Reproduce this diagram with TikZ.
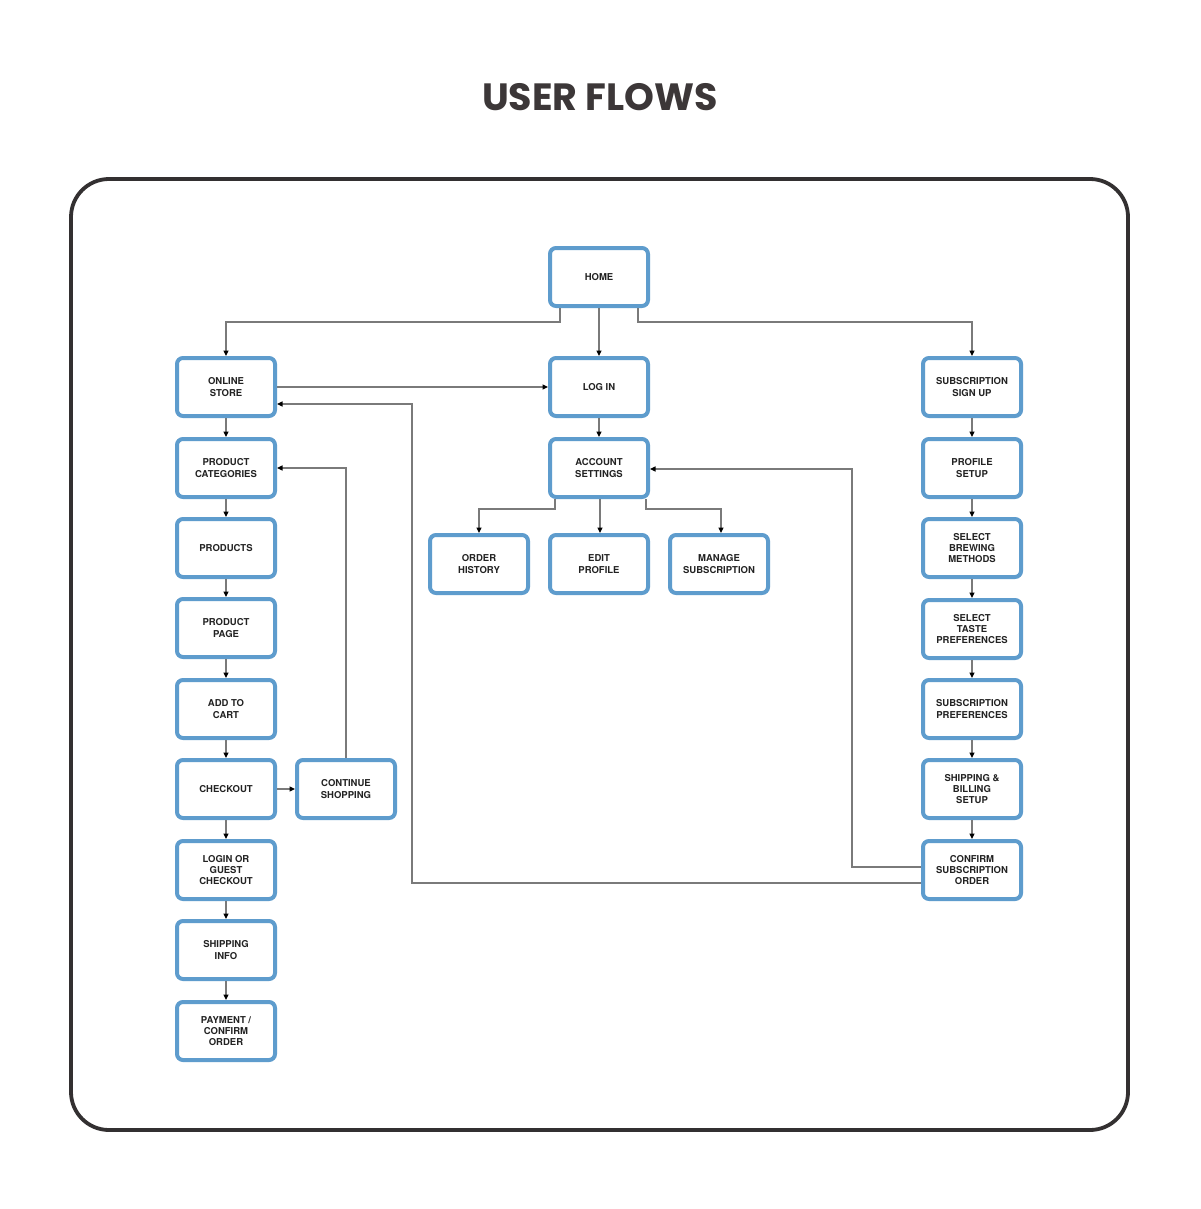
\documentclass[tikz,border=0pt]{standalone}
\usepackage{fontspec}
\setmainfont{TeX Gyre Heros}
\newfontfamily\titlefont{Poppins}
\usetikzlibrary{arrows.meta,calc}
\definecolor{boxblue}{HTML}{5E9CCD}
\definecolor{framegray}{HTML}{333031}
\definecolor{titlegray}{HTML}{3C3738}
\definecolor{linegray}{HTML}{7A7A7A}
\definecolor{txt}{HTML}{222222}
\tikzset{
  flowbox/.style={draw=boxblue, line width=4pt, rounded corners=6pt, fill=white,
    minimum width=98pt, minimum height=58pt, align=center, text=txt,
    font=\fontsize{9.5}{11.2}\selectfont\bfseries, inner sep=0pt},
  conn/.style={draw=linegray, line width=1.1pt,
    -{Triangle[length=5.5pt,width=5pt,color=black]}},
  plain/.style={draw=linegray, line width=1.1pt}
}
\begin{document}
\begin{tikzpicture}[x=1pt,y=-1pt]
\useasboundingbox (0,0) rectangle (1200,1209);
\fill[white] (0,0) rectangle (1200,1209);
\node[text=titlegray, font=\titlefont\bfseries\fontsize{38}{44}\selectfont] (title) at (600,97) {USER FLOWS};
\draw[framegray, line width=3.8pt, rounded corners=38pt] (71,179) rectangle (1128,1130);
% center
\node[flowbox] (home) at (599,277) {HOME};
\node[flowbox] (login) at (599,387) {LOG IN};
\node[flowbox] (acct) at (599,468) {ACCOUNT\\SETTINGS};
\node[flowbox] (hist) at (479,564) {ORDER\\HISTORY};
\node[flowbox] (edit) at (599,564) {EDIT\\PROFILE};
\node[flowbox] (manage) at (719,564) {MANAGE\\SUBSCRIPTION};
% left
\node[flowbox] (store) at (226,387) {ONLINE\\STORE};
\node[flowbox] (cats) at (226,468) {PRODUCT\\CATEGORIES};
\node[flowbox] (prods) at (226,548) {PRODUCTS};
\node[flowbox] (page) at (226,628) {PRODUCT\\PAGE};
\node[flowbox] (cart) at (226,709) {ADD TO\\CART};
\node[flowbox] (checkout) at (226,789) {CHECKOUT};
\node[flowbox] (cont) at (346,789) {CONTINUE\\SHOPPING};
\node[flowbox] (guest) at (226,870) {LOGIN OR\\GUEST\\CHECKOUT};
\node[flowbox] (ship) at (226,950) {SHIPPING\\INFO};
\node[flowbox] (pay) at (226,1031) {PAYMENT /\\CONFIRM\\ORDER};
% right
\node[flowbox] (sub) at (972,387) {SUBSCRIPTION\\SIGN UP};
\node[flowbox] (prof) at (972,468) {PROFILE\\SETUP};
\node[flowbox] (brew) at (972,548) {SELECT\\BREWING\\METHODS};
\node[flowbox] (taste) at (972,629) {SELECT\\TASTE\\PREFERENCES};
\node[flowbox] (subpref) at (972,709) {SUBSCRIPTION\\PREFERENCES};
\node[flowbox] (bill) at (972,789) {SHIPPING \&\\BILLING\\SETUP};
\node[flowbox] (confirm) at (972,870) {CONFIRM\\SUBSCRIPTION\\ORDER};
% connectors from home
\draw[conn] ([xshift=-39pt]home.south) -- ++(0,14) -| (store.north);
\draw[conn] (home.south) -- (login.north);
\draw[conn] ([xshift=39pt]home.south) -- ++(0,14) -| (sub.north);
\draw[conn] (store.east) -- (login.west);
\draw[conn] (login.south) -- (acct.north);
\draw[conn] ([xshift=-44pt]acct.south) -- ++(0,10) -| (hist.north);
\draw[conn] ([xshift=1pt]acct.south) -- ([xshift=1pt]edit.north);
\draw[conn] ([xshift=47pt]acct.south) -- ++(0,10) -| ([xshift=2pt]manage.north);
% left chain
\foreach \a/\b in {store/cats,cats/prods,prods/page,page/cart,cart/checkout,checkout/guest,guest/ship,ship/pay}
  \draw[conn] (\a.south) -- (\b.north);
\draw[conn] (checkout.east) -- (cont.west);
\draw[conn] (cont.north) -- (cont.north |- cats.east) -- (cats.east);
% right chain
\foreach \a/\b in {sub/prof,prof/brew,brew/taste,taste/subpref,subpref/bill,bill/confirm}
  \draw[conn] (\a.south) -- (\b.north);
% returns from confirm
\coordinate (r1) at (412,883);
\coordinate (r2) at (852,867);
\draw[conn] (confirm.west |- r1) -- (r1) -- (r1 |- 0,404) -- ([yshift=-17pt]store.east);
\draw[conn] (confirm.west |- r2) -- (r2) -- (r2 |- 0,469) -- ([yshift=-1pt]acct.east);
\end{tikzpicture}
\end{document}
